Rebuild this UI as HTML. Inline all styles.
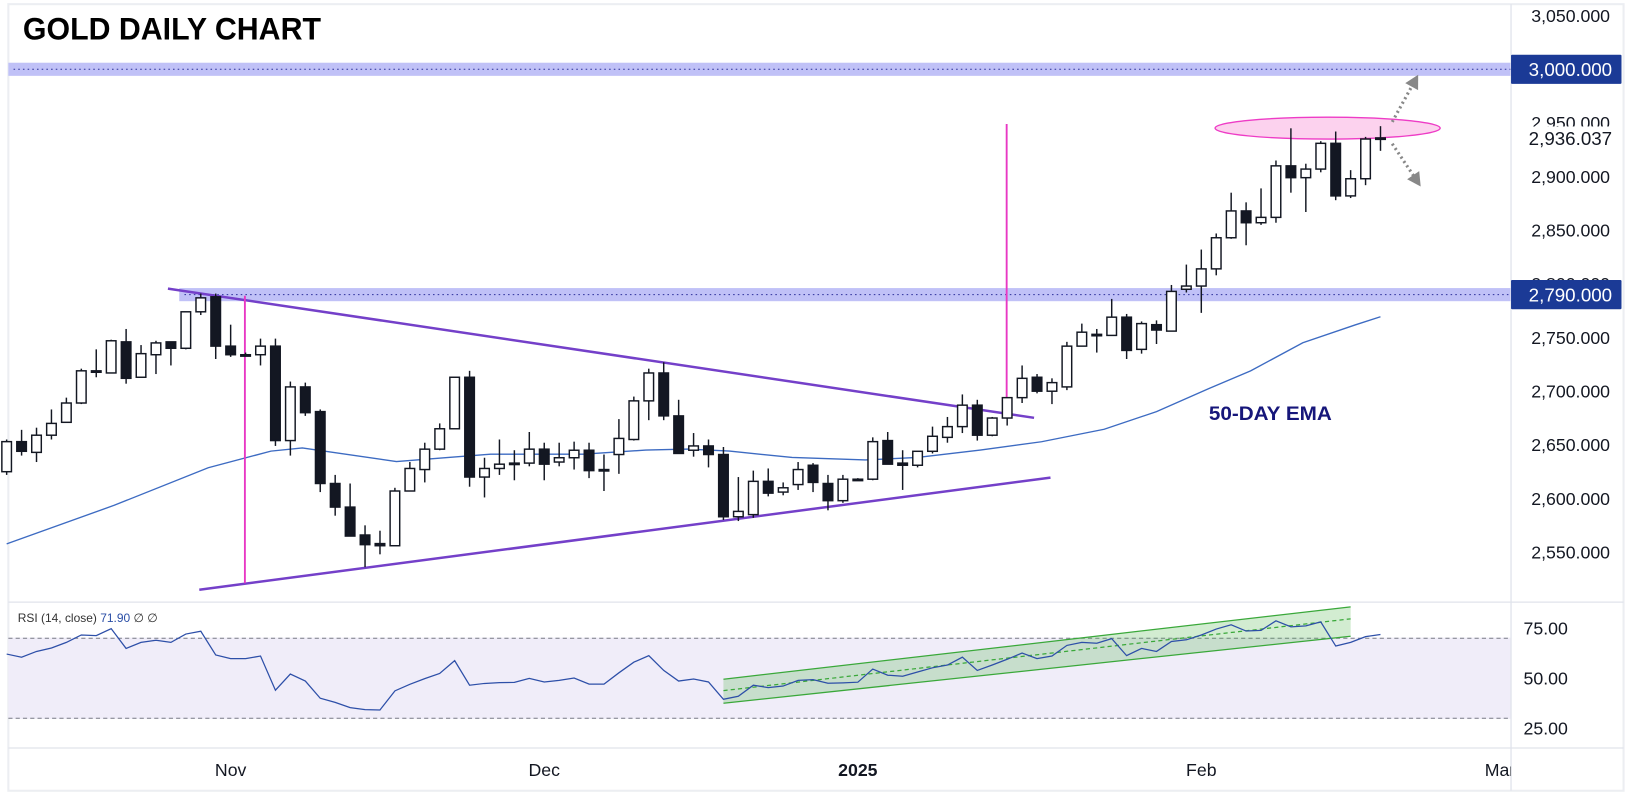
<!DOCTYPE html>
<html><head><meta charset="utf-8"><title>Gold Daily Chart</title>
<style>
html,body{margin:0;padding:0;background:#fff;overflow:hidden}
svg{display:block;font-family:"Liberation Sans",sans-serif}
</style></head>
<body>
<svg id="chart" xmlns="http://www.w3.org/2000/svg" width="1634" height="797" viewBox="0 0 1568 765" preserveAspectRatio="none">
  <rect x="0" y="0" width="1568" height="765" fill="#ffffff"/>
  <rect x="8" y="4" width="1550" height="755" fill="none" stroke="#eceef2" stroke-width="2"/>
  <rect x="8" y="612" width="1442" height="78" fill="#f0edf9"/>
  <g id="bands"></g>
  <g id="grid"></g>
  <g id="ema"></g>
  <g id="annot"></g>
  <g id="candles"></g>
  <g id="rsi"></g>
  <g id="axes"></g>
  <text x="22" y="38" font-size="30" font-weight="bold" fill="#000" textLength="286" lengthAdjust="spacingAndGlyphs">GOLD DAILY CHART</text>
  <text x="1160" y="403" font-size="19" font-weight="bold" fill="#16167a" textLength="118" lengthAdjust="spacingAndGlyphs">50-DAY EMA</text>
  <text x="17" y="597" font-size="11.5" fill="#333">RSI (14, close) <tspan fill="#2a4ea6">71.90</tspan> <tspan>∅</tspan> <tspan>∅</tspan></text>
</svg>
<script>
const opens = [2625,2653,2643,2659,2671,2689,2718,2717,2746,2713,
2734,2746,2740,2774,2788,2742,2734,2734,2742,2654,
2704,2681,2614,2592,2566,2558,2556,2607,2627,2646,
2665,2713,2620,2628,2632,2633,2646,2634,2638,2645,
2626,2641,2655,2691,2717,2677,2645,2649,2641,2583,
2585,2616,2606,2613,2631,2614,2598,2618,2618,2654,
2633,2631,2644,2657,2667,2687,2659,2675,2694,2713,
2700,2704,2742,2752,2752,2769,2739,2762,2756,2795,
2798,2814,2843,2868,2857,2862,2910,2899,2907,2931,
2882,2898,2935];
const highs = [2655,2664,2666,2683,2694,2721,2739,2748,2758,2743,
2747,2746,2774,2791,2791,2762,2736,2749,2749,2709,
2708,2683,2622,2614,2575,2570,2610,2634,2652,2670,
2713,2719,2638,2655,2645,2662,2652,2652,2653,2652,
2641,2674,2695,2721,2727,2692,2661,2655,2648,2620,
2626,2628,2615,2634,2633,2622,2622,2619,2657,2662,
2645,2644,2667,2676,2697,2692,2676,2694,2724,2716,
2712,2746,2763,2758,2786,2772,2765,2766,2799,2818,
2832,2847,2885,2876,2889,2915,2945,2912,2933,2942,
2906,2937,2947];
const lows = [2622,2640,2634,2655,2671,2688,2713,2717,2707,2713,
2716,2724,2739,2771,2730,2732,2733,2724,2649,2640,
2677,2606,2584,2565,2536,2548,2556,2607,2615,2645,
2665,2611,2601,2622,2617,2630,2617,2630,2627,2619,
2607,2623,2654,2673,2673,2642,2639,2629,2580,2579,
2582,2602,2603,2608,2606,2589,2596,2617,2617,2632,
2608,2629,2642,2652,2661,2654,2658,2668,2689,2698,
2688,2701,2742,2736,2752,2730,2735,2744,2756,2792,
2773,2808,2842,2836,2855,2857,2885,2867,2904,2878,
2880,2892,2924];
const closes = [2653,2644,2659,2670,2689,2719,2719,2747,2712,2735,
2745,2740,2774,2787,2742,2734,2734,2742,2654,2704,
2680,2614,2592,2565,2557,2556,2607,2628,2646,2665,
2713,2620,2628,2632,2633,2646,2632,2638,2645,2626,
2627,2656,2691,2717,2677,2642,2649,2641,2583,2588,
2616,2605,2610,2627,2615,2598,2618,2618,2653,2632,
2631,2644,2658,2667,2687,2659,2675,2694,2712,2700,
2708,2742,2755,2753,2769,2738,2763,2757,2793,2798,
2814,2843,2868,2857,2862,2910,2899,2907,2931,2882,
2898,2935,2936.04];
const rsiValues = [62.1,60.5,63.4,65.1,67.9,71.6,71.3,74.8,64.9,67.9,
69,67.9,72.1,73.5,61.6,59.8,59.8,61.1,44,52.1,
48.6,40,37.9,35.3,34.3,34.1,43.7,47,49.8,52.4,
58.8,46.5,47.4,47.8,47.9,49.9,48.1,48.9,50.1,47.1,
47.1,52.7,58,61.3,53.9,48.6,49.6,48.1,39.5,41,
46.5,45.3,46.1,48.9,49.3,47.5,47.7,48.0,54.6,51.5,
51.0,53.1,55.2,56.6,60.5,53.9,56.6,59.5,62.6,59.8,
61.1,66.4,67.9,67.5,69.8,61.3,64.9,63.4,68.4,69.2,
71.6,74.6,76.7,73.6,73.9,78.7,75.7,76.2,78.2,66.1,
67.9,70.8,71.9];
const emaIdx = [0,7.2,13.5,17.7,19.8,26.1,29.6,32.4,38.6,42.8,45.6,48.4,52.6,57.5,61,65.2,69.3,73.5,77,80.5,83.3,86.8,90.3,92];
const emaVal = [2557.8,2593.7,2628.6,2644.2,2647.1,2634.5,2638.3,2641.3,2641.3,2645.1,2646.1,2644.2,2638.3,2635.9,2638.3,2645.1,2652.9,2664.6,2681,2702.4,2718.9,2745.1,2761.7,2769.4];
const priceTicks = [3050,2950,2900,2850,2800,2750,2700,2650,2600,2550];
const rsiTicks = [75,50,25];
const timeLabels = ["Nov","Dec","2025","Feb","Mar"];
const timeIdx = [15,36,57,80,100];
const levels = [3000,2790];
const lastPrice = 2936.037;

const NS="http://www.w3.org/2000/svg";
const xOf = i => 207 + (i-14)*14.33;
const yOf = p => 530 - (p-2550)*1.03;
const ryOf = r => 651 - (r-50)*1.92;
const AXIS_X = 1450;
function mk(tag, attrs, parent){const e=document.createElementNS(NS,tag);for(const k in attrs)e.setAttribute(k,attrs[k]);parent.appendChild(e);return e;}
const fmt = v => v.toLocaleString('en-US',{minimumFractionDigits:3,maximumFractionDigits:3});

// bands
const gB=document.getElementById('bands');
levels.forEach((lv,k)=>{
  const y=yOf(lv);
  const x0 = k===0 ? 8 : 172;
  const r=mk('rect',{x:x0,y:y-6.3,width:AXIS_X-x0,height:12.6,fill:'#c0c1f7'},gB);
  
  
  const l=mk('line',{x1:x0+5,x2:AXIS_X,y1:y,y2:y,stroke:'#2b2f9a','stroke-width':1,'stroke-dasharray':'1.5 3'},gB);
  
  
});

// grid / structural lines
const gG=document.getElementById('grid');
[[8,578,1558,578],[8,718,1558,718]].forEach(a=>{
  const l=mk('line',{x1:a[0],y1:a[1],x2:a[2],y2:a[3],stroke:'#e0e3eb','stroke-width':1.2},gG);
  
  
});
const ax=mk('line',{x1:AXIS_X,y1:4,x2:AXIS_X,y2:759,stroke:'#e0e3eb','stroke-width':1.2},gG);


[70,30].forEach(r=>{
  const l=mk('line',{x1:8,x2:AXIS_X,y1:ryOf(r),y2:ryOf(r),stroke:'#787b86','stroke-width':1,'stroke-dasharray':'4 3'},gG);
  
  
});

// EMA
const gE=document.getElementById('ema');
const emaPts=emaIdx.map((ix,k)=>xOf(ix).toFixed(1)+','+yOf(emaVal[k]).toFixed(1)).join(' ');
const emaLine=mk('polyline',{points:emaPts,fill:'none',stroke:'#3d6bc2','stroke-width':1.3},gE);



// annotations
const gA=document.getElementById('annot');
const tl1=mk('line',{x1:xOf(10.8),y1:yOf(2795.6),x2:xOf(68.8),y2:yOf(2675.2),stroke:'#7440c9','stroke-width':2.4},gA);


const tl2=mk('line',{x1:xOf(12.9),y1:yOf(2515),x2:xOf(69.9),y2:yOf(2619.5),stroke:'#7440c9','stroke-width':2.4},gA);


const m1=mk('line',{x1:235,y1:yOf(2789),x2:235,y2:yOf(2521),stroke:'#e838c4','stroke-width':1.8},gA);


const m2=mk('line',{x1:966,y1:yOf(2949),x2:966,y2:yOf(2689),stroke:'#e838c4','stroke-width':1.8},gA);


const el=mk('ellipse',{cx:1274,cy:123,rx:108,ry:10.5,fill:'#fcd2ee',stroke:'#ee3cc6','stroke-width':1.3},gA);


[[1336,117,1358,77],[1336,138,1360,174]].forEach((a,k)=>{
  const l=mk('line',{x1:a[0],y1:a[1],x2:a[2],y2:a[3],stroke:'#888','stroke-width':3,'stroke-dasharray':'2 3'},gA);
  
  
  const ang=Math.atan2(a[3]-a[1],a[2]-a[0]);
  const L=13,W=7;
  const tx=a[2]+Math.cos(ang)*6, ty=a[3]+Math.sin(ang)*6;
  const bx=tx-Math.cos(ang)*L, by=ty-Math.sin(ang)*L;
  const p=[tx,ty,bx-Math.sin(ang)*W,by+Math.cos(ang)*W,bx+Math.sin(ang)*W,by-Math.cos(ang)*W];
  const h=mk('polygon',{points:p.map(v=>v.toFixed(1)).join(' '),fill:'#888'},gA);
  
  
});

// candles
const gC=document.getElementById('candles');
for(let i=0;i<opens.length;i++){
  const x=xOf(i), o=opens[i], c=closes[i];
  const up=c>=o;
  const g=mk('g',{},gC);
  
  
  mk('line',{x1:x,x2:x,y1:yOf(highs[i]),y2:yOf(lows[i]),stroke:'#131722','stroke-width':1.4},g);
  const top=yOf(Math.max(o,c)), bot=yOf(Math.min(o,c));
  const h=Math.max(bot-top,1.4);
  mk('rect',{x:x-4.6,y:top,width:9.2,height:h,fill:up?'#ffffff':'#131722',stroke:'#131722','stroke-width':1.4},g);
}

// RSI
const gR=document.getElementById('rsi');
const chA=[48,49.5,37.5,43.8], chB=[90,85.7,71,79.7];
const chPoly=mk('polygon',{points:[xOf(chA[0]),ryOf(chA[1]),xOf(chB[0]),ryOf(chB[1]),xOf(chB[0]),ryOf(chB[2]),xOf(chA[0]),ryOf(chA[2])].map(v=>v.toFixed(1)).join(' '),fill:'rgba(76,180,70,0.25)',stroke:'none'},gR);


[[1,'rsi-channel-upper',''],[2,'rsi-channel-lower',''],[3,'rsi-channel-mid','4 3']].forEach(d=>{
  const l=mk('line',{x1:xOf(chA[0]),y1:ryOf(chA[d[0]]),x2:xOf(chB[0]),y2:ryOf(chB[d[0]]),stroke:'#3aa83a','stroke-width':1.2},gR);
  if(d[2])l.setAttribute('stroke-dasharray',d[2]);
  
  
});
const rsiPts=rsiValues.map((r,i)=>xOf(i).toFixed(1)+','+ryOf(r).toFixed(1)).join(' ');
const rl=mk('polyline',{points:rsiPts,fill:'none',stroke:'#2d4fa8','stroke-width':1.2},gR);



// axes
const gX=document.getElementById('axes');
priceTicks.forEach(p=>{
  const t=mk('text',{x:1545,y:yOf(p)+6,'font-size':17,'text-anchor':'end',fill:'#131722'},gX);
  t.textContent=fmt(p);
  
  
});
levels.forEach(lv=>{
  const y=yOf(lv);
  const b=mk('rect',{x:AXIS_X,y:y-14,width:106,height:28,fill:'#1b3a96',rx:1},gX);
  
  
  const t=mk('text',{x:1547,y:y+6.5,'font-size':18,'text-anchor':'end',fill:'#ffffff'},gX);
  t.textContent=fmt(lv);
  
  
});
const ly=yOf(lastPrice);
const lb=mk('rect',{x:AXIS_X+2,y:ly-11,width:104,height:23,fill:'#ffffff'},gX);


const lt=mk('text',{x:1547,y:ly+7,'font-size':18,'text-anchor':'end',fill:'#131722'},gX);
lt.textContent=fmt(lastPrice);


rsiTicks.forEach(r=>{
  const t=mk('text',{x:1462,y:ryOf(r)+6,'font-size':17,fill:'#131722'},gX);
  t.textContent=r.toFixed(2);
  
  
});
const clip=mk('clipPath',{id:'tclip'},gX);
mk('rect',{x:0,y:718,width:AXIS_X,height:45},clip);
timeLabels.forEach((s,k)=>{
  const t=mk('text',{x:xOf(timeIdx[k]),y:745,'font-size':17,'text-anchor':'middle',fill:'#131722','clip-path':'url(#tclip)'},gX);
  if(s==='2025')t.setAttribute('font-weight','bold');
  t.textContent=s;
  
  
});
</script>
</body></html>
